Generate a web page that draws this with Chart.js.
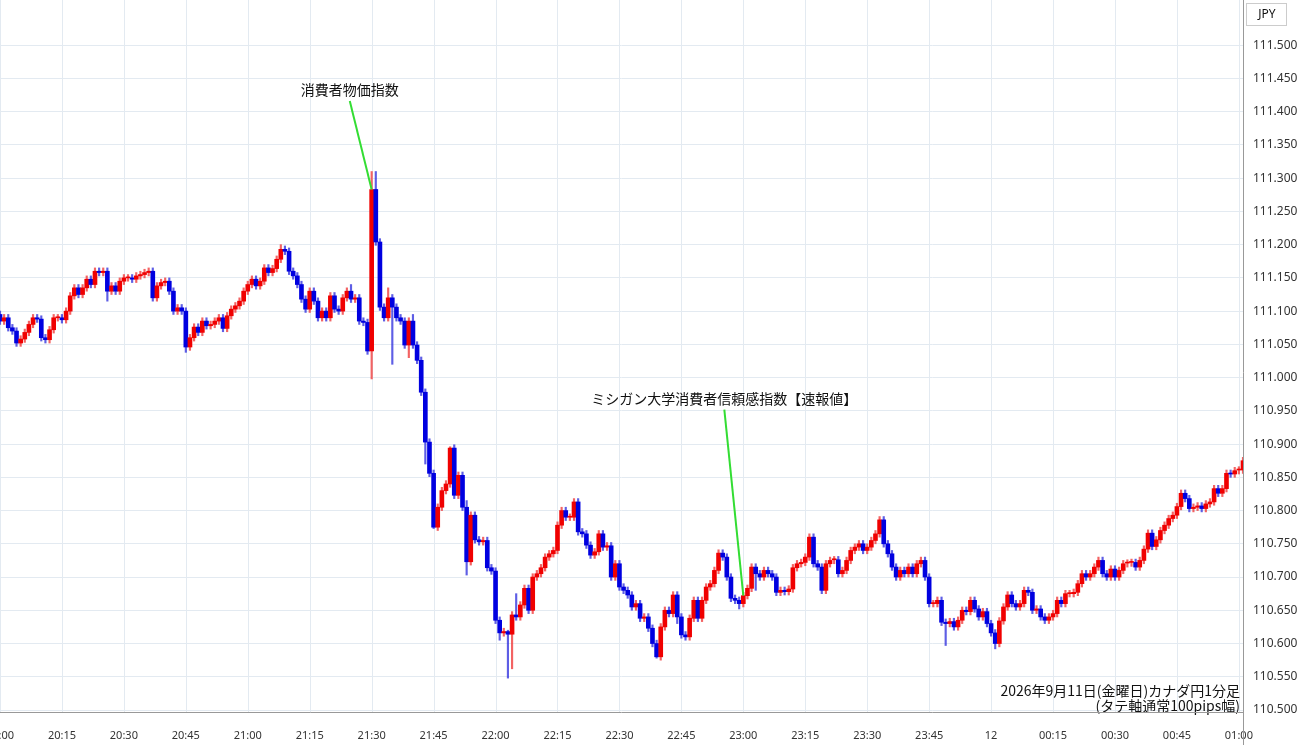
<!DOCTYPE html>
<html>
<head>
<meta charset="utf-8">
<script src="https://cdn.jsdelivr.net/npm/chart.js@4.4.0/dist/chart.umd.min.js"></script>
<style>
  html, body { margin: 0; padding: 0; background: #fff; }
  #wrap { position: relative; width: 1300px; height: 745px; }
</style>
</head>
<body>
<div id="wrap"><canvas id="c" width="1300" height="745"></canvas></div>
<script>
// 1-minute closes, 20:00 -> 01:01
const closes = [
  111.085, 111.09, 111.075, 111.07, 111.052, 111.058, 111.068, 111.08, 111.09, 111.088,
  111.06, 111.057, 111.072, 111.09, 111.09, 111.087, 111.10, 111.123, 111.135, 111.125,
  111.135, 111.148, 111.14, 111.16, 111.158, 111.16, 111.13, 111.138, 111.13, 111.145,
  111.15, 111.15, 111.148, 111.153, 111.155, 111.158, 111.16, 111.12, 111.138, 111.143,
  111.145, 111.13, 111.10, 111.105, 111.10, 111.046, 111.06, 111.076, 111.068, 111.085,
  111.078, 111.08, 111.085, 111.09, 111.074, 111.093, 111.103, 111.108, 111.115, 111.13,
  111.14, 111.148, 111.138, 111.145, 111.165, 111.158, 111.164, 111.178, 111.193, 111.19,
  111.16, 111.153, 111.14, 111.118, 111.103, 111.13, 111.115, 111.09, 111.10, 111.09,
  111.123, 111.103, 111.10, 111.12, 111.13, 111.118, 111.12, 111.085, 111.083, 111.04,
  111.283, 111.204, 111.106, 111.09, 111.12, 111.106, 111.09, 111.085, 111.049, 111.085,
  111.049, 111.026, 110.978, 110.903, 110.856, 110.775, 110.805, 110.83, 110.84, 110.894,
  110.823, 110.853, 110.805, 110.723, 110.793, 110.756, 110.753, 110.755, 110.714, 110.709,
  110.635, 110.616, 110.618, 110.614, 110.643, 110.64, 110.658, 110.683, 110.65, 110.70,
  110.705, 110.714, 110.73, 110.735, 110.74, 110.778, 110.80, 110.79, 110.79, 110.813,
  110.768, 110.765, 110.748, 110.733, 110.738, 110.765, 110.745, 110.747, 110.70, 110.72,
  110.685, 110.68, 110.673, 110.655, 110.66, 110.638, 110.64, 110.623, 110.60, 110.58,
  110.625, 110.65, 110.645, 110.673, 110.64, 110.613, 110.61, 110.638, 110.665, 110.638,
  110.665, 110.685, 110.69, 110.71, 110.736, 110.73, 110.70, 110.668, 110.665, 110.66,
  110.672, 110.683, 110.715, 110.705, 110.70, 110.71, 110.705, 110.70, 110.677, 110.68,
  110.678, 110.682, 110.714, 110.72, 110.722, 110.73, 110.76, 110.72, 110.715, 110.68,
  110.72, 110.725, 110.726, 110.705, 110.71, 110.725, 110.74, 110.745, 110.75, 110.74,
  110.745, 110.755, 110.765, 110.786, 110.75, 110.735, 110.715, 110.70, 110.71, 110.705,
  110.715, 110.705, 110.72, 110.725, 110.70, 110.66, 110.66, 110.665, 110.632, 110.63,
  110.633, 110.625, 110.635, 110.65, 110.648, 110.665, 110.652, 110.64, 110.648, 110.63,
  110.616, 110.60, 110.634, 110.655, 110.673, 110.66, 110.655, 110.66, 110.68, 110.677,
  110.65, 110.652, 110.64, 110.635, 110.64, 110.645, 110.665, 110.66, 110.675, 110.675,
  110.677, 110.69, 110.705, 110.70, 110.705, 110.715, 110.725, 110.705, 110.70, 110.712,
  110.70, 110.71, 110.72, 110.721, 110.722, 110.715, 110.725, 110.742, 110.766, 110.746,
  110.756, 110.77, 110.778, 110.788, 110.793, 110.806, 110.826, 110.818, 110.803, 110.805,
  110.807, 110.803, 110.81, 110.813, 110.833, 110.826, 110.833, 110.856, 110.855, 110.86,
  110.861, 110.875
];
const firstOpen = 111.095;
// wick extremes that reach well past the body
const highs = { 37: 111.165, 45: 111.105, 68: 111.20, 85: 111.14, 90: 111.31, 91: 111.31, 94: 111.135, 100: 111.095, 109: 110.896, 113: 110.815, 123: 110.62, 125: 110.675 };
const lows = { 26: 111.115, 45: 111.038, 90: 110.998, 95: 111.02, 99: 111.03, 103: 110.87, 105: 110.773, 113: 110.703, 121: 110.605, 123: 110.548, 124: 110.562, 159: 110.578, 164: 110.63, 179: 110.652, 183: 110.68, 229: 110.597, 241: 110.592, 242: 110.595 };
const wickPad = 0.005;
const yTicks = [110.5, 110.55, 110.6, 110.65, 110.7, 110.75, 110.8, 110.85, 110.9, 110.95,
  111.0, 111.05, 111.1, 111.15, 111.2, 111.25, 111.3, 111.35, 111.4, 111.45, 111.5];
const events = [
  { idx: 90, text: '消費者物価指数', tx: 90 - 5.3, ty: 111.422 },
  { idx: 180, text: 'ミシガン大学消費者信頼感指数【速報値】', tx: 180 - 4.6, ty: 110.958 }
];

const labels = [];
for (let i = 0; i < closes.length; i++) {
  const m = 20 * 60 + i;
  const h = Math.floor(m / 60) % 24, mm = m % 60;
  labels.push(String(h).padStart(2, '0') + ':' + String(mm).padStart(2, '0'));
}

const opens = closes.map((c, i) => i === 0 ? firstOpen : closes[i - 1]);
const bodies = closes.map((c, i) => {
  let o = opens[i];
  if (Math.abs(c - o) < 0.0015) o = c + 0.0015;
  return [Math.min(o, c), Math.max(o, c)];
});
const wicks = closes.map((c, i) => {
  const hi = highs[i] !== undefined ? highs[i] : Math.max(opens[i], c) + wickPad;
  const lo = lows[i] !== undefined ? lows[i] : Math.min(opens[i], c) - wickPad;
  return [lo, hi];
});
const colors = closes.map((c, i) => c >= opens[i] ? '#f00000' : '#0000e0');
const wickColors = closes.map((c, i) => c >= opens[i] ? 'rgba(240,60,60,0.8)' : 'rgba(40,40,220,0.75)');

const overlay = {
  id: 'overlay',
  beforeDatasetsDraw(chart) {
    const { ctx, scales: { x }, chartArea } = chart;
    ctx.save();
    ctx.strokeStyle = '#e3eaf1';
    ctx.lineWidth = 1;
    for (let i = 0; i < labels.length; i += 15) {
      const px = Math.round(x.getPixelForValue(i)) + 0.5;
      ctx.beginPath();
      ctx.moveTo(px, chartArea.top);
      ctx.lineTo(px, chartArea.bottom);
      ctx.stroke();
    }
    ctx.restore();
  },
  afterDatasetsDraw(chart) {
    const { ctx, scales: { x, y }, chartArea } = chart;
    ctx.save();
    ctx.font = '14px "Noto Sans CJK JP", sans-serif';
    ctx.fillStyle = '#111';
    events.forEach(ev => {
      const tx = x.getPixelForValue(ev.tx), ty = y.getPixelForValue(ev.ty);
      const px = x.getPixelForValue(ev.idx), py = y.getPixelForValue(Math.max(closes[ev.idx], opens[ev.idx]));
      ctx.textAlign = 'center';
      ctx.textBaseline = 'bottom';
      ctx.fillText(ev.text, tx, ty);
      ctx.strokeStyle = '#33dd33';
      ctx.lineWidth = 2;
      ctx.beginPath();
      ctx.moveTo(tx, ty + 4);
      ctx.lineTo(px, py);
      ctx.stroke();
    });
    ctx.textAlign = 'right';
    ctx.textBaseline = 'alphabetic';
    ctx.font = '14px "Noto Sans CJK JP", sans-serif';
    ctx.fillText('2026年9月11日(金曜日)カナダ円1分足', chartArea.right - 3, 696);
    ctx.fillText('(タテ軸通常100pips幅)', chartArea.right - 3, 711);
    // price axis border and currency box
    ctx.strokeStyle = '#999';
    ctx.lineWidth = 1;
    ctx.beginPath();
    ctx.moveTo(chartArea.right + 0.5, 0);
    ctx.lineTo(chartArea.right + 0.5, 745);
    ctx.moveTo(0, chartArea.bottom + 0.5);
    ctx.lineTo(chartArea.right, chartArea.bottom + 0.5);
    ctx.stroke();
    ctx.strokeStyle = '#ccc';
    ctx.strokeRect(chartArea.right + 3.5, 3.5, 40, 22);
    ctx.textAlign = 'center';
    ctx.textBaseline = 'middle';
    ctx.font = '12px "Noto Sans", sans-serif';
    ctx.fillText('JPY', chartArea.right + 24, 15);
    ctx.restore();
  }
};

new Chart(document.getElementById('c'), {
  type: 'bar',
  data: {
    labels: labels,
    datasets: [
      { data: wicks, backgroundColor: wickColors, barThickness: 1.5, grouped: false, order: 2 },
      { data: bodies, backgroundColor: colors, barThickness: 4, grouped: false, order: 1 }
    ]
  },
  options: {
    responsive: false,
    animation: false,
    layout: { padding: 0 },
    plugins: { legend: { display: false }, tooltip: { enabled: false } },
    scales: {
      x: {
        offset: false,
        grid: { display: false },
        border: { display: false },
        ticks: {
          autoSkip: false,
          maxRotation: 0,
          padding: 9,
          color: '#333',
          font: { family: 'Noto Sans', size: 11 },
          callback: (v, i) => (i % 15 === 0 ? (labels[i] === '00:00' ? '12' : labels[i]) : null)
        },
        afterFit: s => { s.height = 33; s.paddingLeft = 0; s.paddingRight = 0; }
      },
      y: {
        position: 'right',
        min: 110.497,
        max: 111.568,
        afterBuildTicks: s => { s.ticks = yTicks.map(v => ({ value: v })); },
        grid: { color: '#e3eaf1', drawTicks: false },
        border: { display: false },
        ticks: {
          padding: 10,
          color: '#333',
          font: { family: 'Noto Sans', size: 12 },
          callback: v => v.toFixed(3)
        },
        afterFit: s => { s.width = 57; s.paddingTop = 0; s.paddingBottom = 0; }
      }
    }
  },
  plugins: [overlay]
});
</script>
</body>
</html>
